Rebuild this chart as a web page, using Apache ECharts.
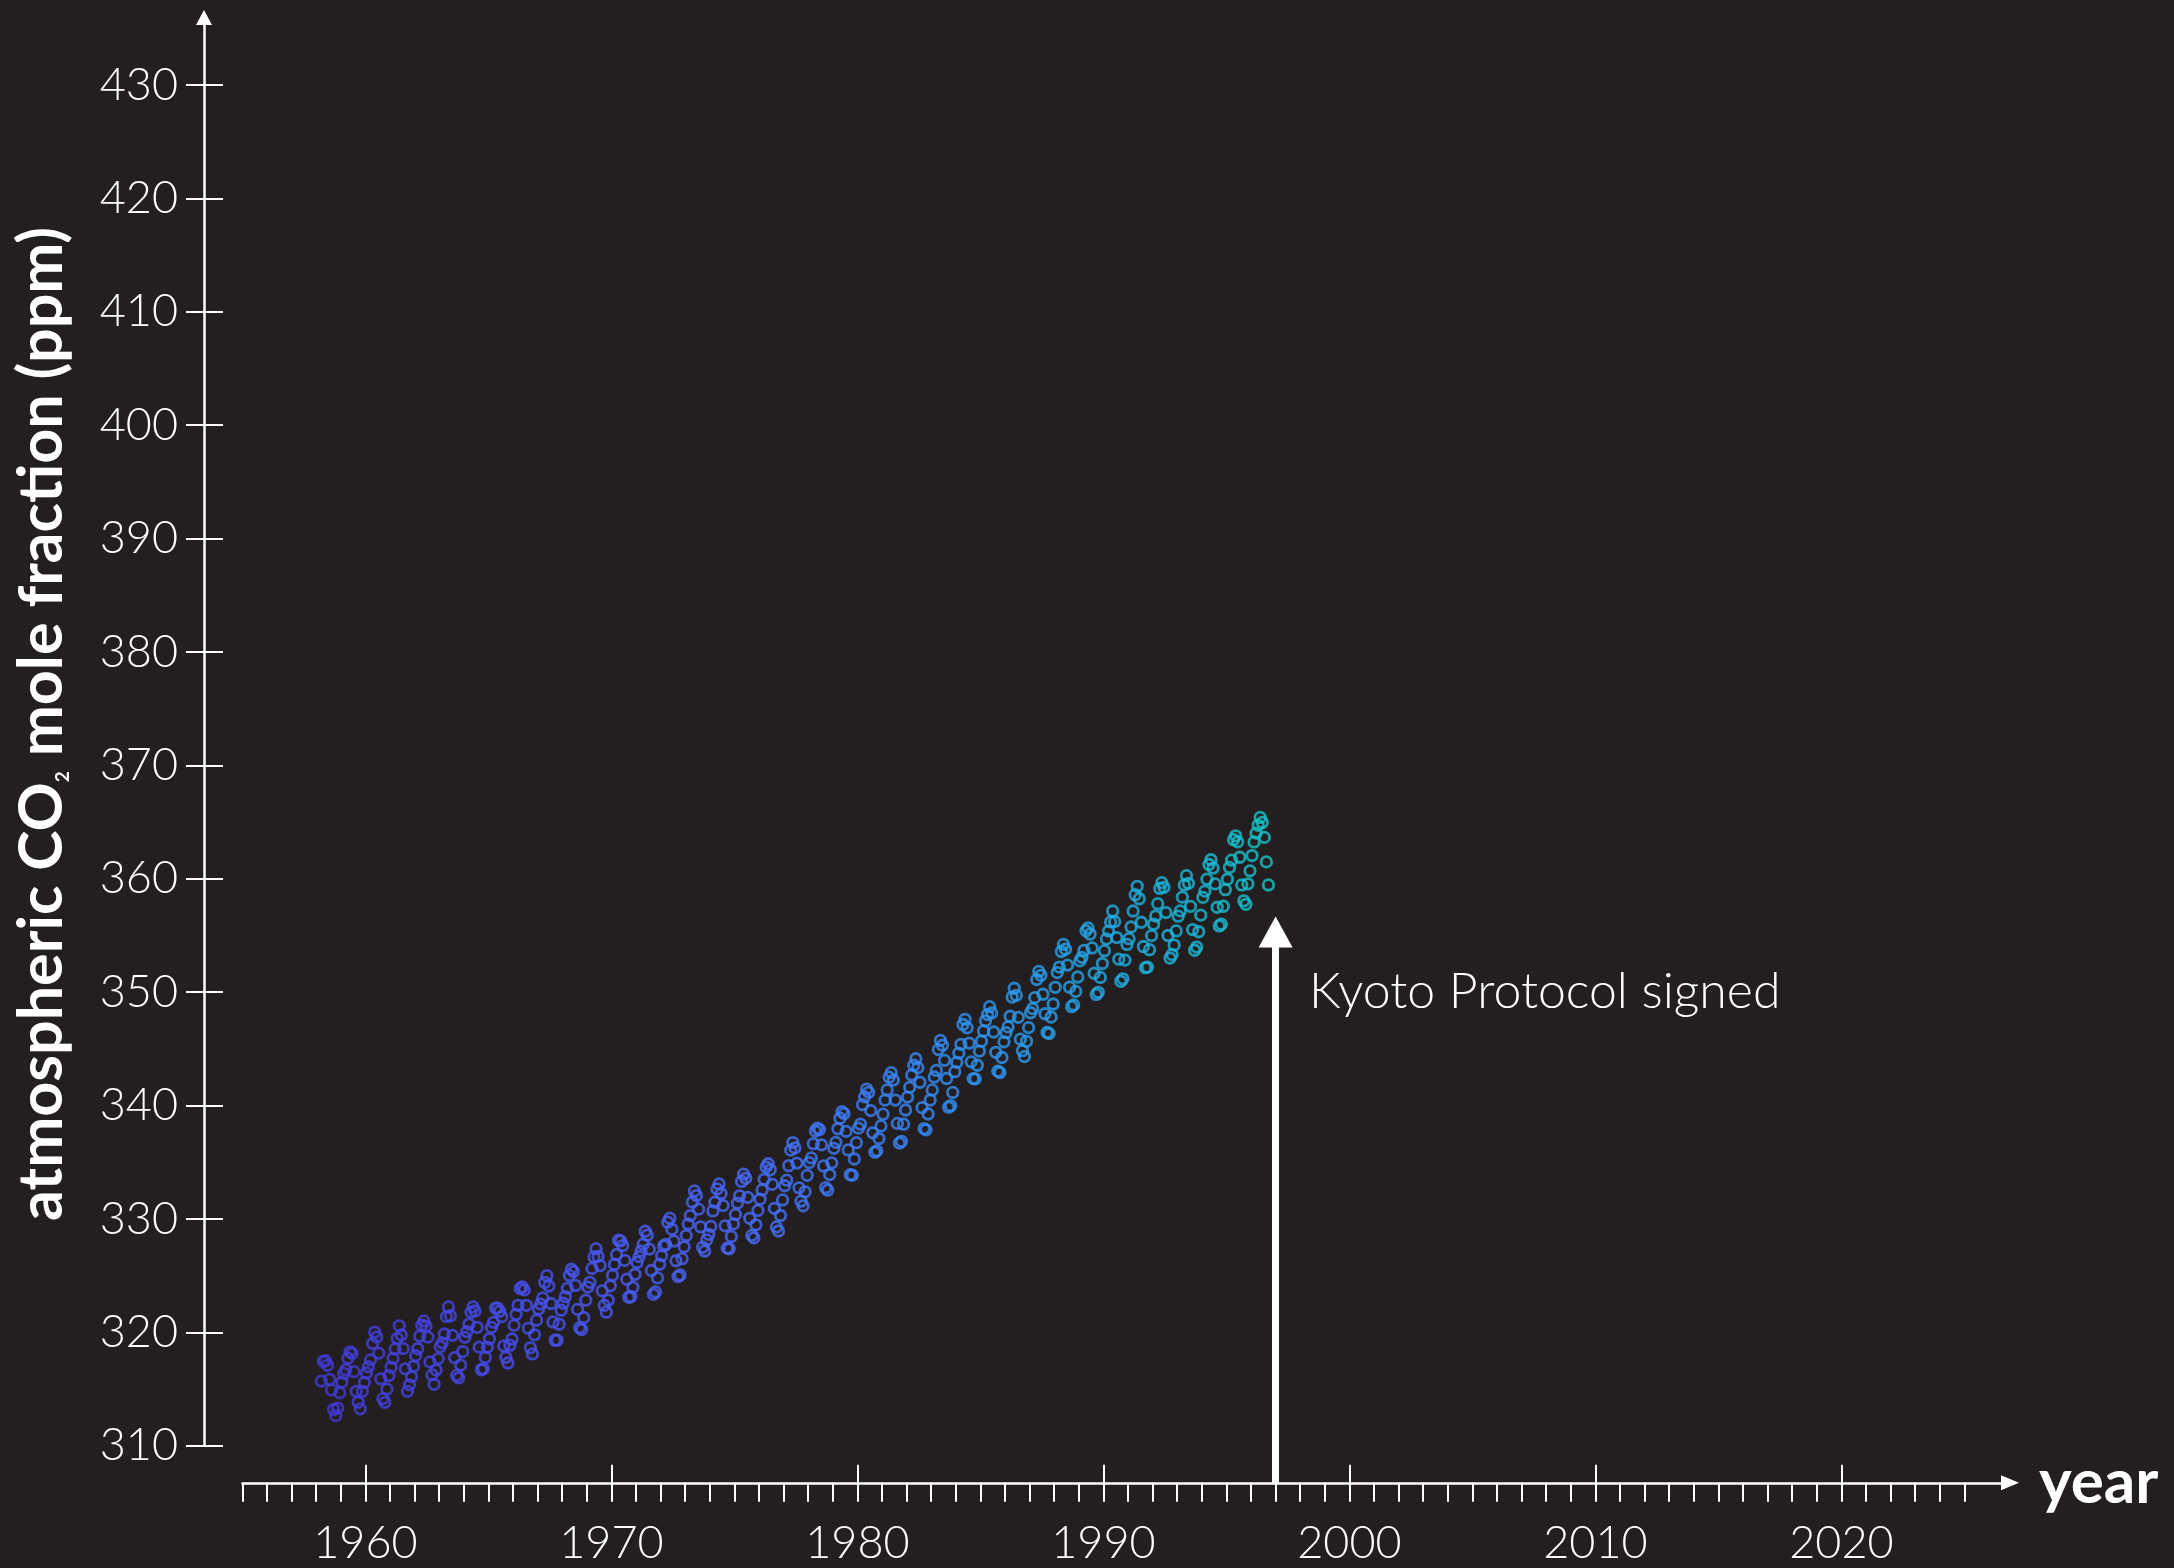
<!DOCTYPE html>
<html>
<head>
<meta charset="utf-8">
<script src="https://cdn.jsdelivr.net/npm/echarts@6/dist/echarts.min.js"></script>
<style>
  html, body { margin: 0; padding: 0; background: #231f20; }
  #chart { width: 2174px; height: 1568px; }
</style>
</head>
<body>
<div id="chart"></div>
<script>
// Mauna Loa monthly mean CO2 (ppm), starting March 1958
const firstYear = 1958;
const firstMonth = 3;

const co2_1958_1959 = [
  315.71, 317.45, 317.50, 317.10, 315.86, 314.93, 313.20, 312.66, 313.33, 314.67,
  315.62, 316.38, 316.71, 317.72, 318.29, 318.15, 316.54, 314.80, 313.84, 313.26, 314.80, 315.58
];
const co2_1960s = [
  316.43, 316.97, 317.58, 319.02, 320.03, 319.59, 318.18, 315.91, 314.16, 313.83, 315.00, 316.19,
  316.93, 317.70, 318.54, 319.48, 320.58, 319.77, 318.57, 316.79, 314.80, 315.38, 316.10, 317.01,
  317.94, 318.56, 319.68, 320.63, 321.01, 320.55, 319.58, 317.40, 316.26, 315.42, 316.69, 317.69,
  318.74, 319.08, 319.86, 321.39, 322.25, 321.47, 319.74, 317.77, 316.21, 315.99, 317.12, 318.31,
  319.57, 320.07, 320.73, 321.77, 322.25, 321.89, 320.44, 318.70, 316.70, 316.79, 317.79, 318.71,
  319.44, 320.44, 320.89, 322.13, 322.16, 321.87, 321.39, 318.81, 317.81, 317.30, 318.87, 319.42,
  320.62, 321.59, 322.39, 323.87, 324.01, 323.75, 322.39, 320.37, 318.64, 318.10, 319.79, 321.08,
  322.07, 322.50, 323.04, 324.42, 325.00, 324.09, 322.55, 320.92, 319.31, 319.31, 320.72, 321.96,
  322.57, 323.15, 323.89, 325.02, 325.57, 325.36, 324.14, 322.03, 320.41, 320.25, 321.31, 322.84,
  324.00, 324.42, 325.64, 326.66, 327.38, 326.70, 325.89, 323.67, 322.38, 321.78, 322.85, 324.11
];
const co2_1970s = [
  325.03, 325.99, 326.87, 328.13, 328.07, 327.66, 326.35, 324.69, 323.10, 323.16, 323.98, 325.13,
  326.17, 326.68, 327.18, 327.78, 328.92, 328.57, 327.34, 325.46, 323.36, 323.57, 324.80, 326.01,
  326.77, 327.63, 327.75, 329.72, 330.07, 329.09, 328.05, 326.32, 324.93, 325.06, 326.50, 327.55,
  328.54, 329.56, 330.30, 331.50, 332.48, 332.07, 330.87, 329.31, 327.51, 327.18, 328.16, 328.64,
  329.35, 330.71, 331.48, 332.65, 333.09, 332.25, 331.18, 329.40, 327.43, 327.37, 328.46, 329.57,
  330.40, 331.40, 332.04, 333.31, 333.96, 333.59, 331.91, 330.06, 328.56, 328.34, 329.49, 330.76,
  331.75, 332.56, 333.50, 334.58, 334.87, 334.34, 333.05, 330.94, 329.30, 328.94, 330.31, 331.68,
  332.93, 333.42, 334.70, 336.07, 336.74, 336.27, 334.93, 332.75, 331.58, 331.16, 332.40, 333.85,
  334.97, 335.39, 336.64, 337.76, 338.01, 337.89, 336.54, 334.68, 332.76, 332.54, 333.92, 334.95,
  336.23, 336.76, 337.96, 338.89, 339.47, 339.29, 337.73, 336.09, 333.91, 333.86, 335.29, 336.73
];
const co2_1980s = [
  338.01, 338.36, 340.08, 340.77, 341.46, 341.17, 339.56, 337.60, 335.88, 336.01, 337.10, 338.21,
  339.24, 340.48, 341.38, 342.51, 342.91, 342.25, 340.49, 338.43, 336.69, 336.85, 338.36, 339.61,
  340.75, 341.61, 342.70, 343.56, 344.13, 343.35, 342.06, 339.82, 337.97, 337.86, 339.26, 340.49,
  341.38, 342.52, 343.10, 344.94, 345.75, 345.32, 343.99, 342.39, 339.86, 339.99, 341.16, 342.99,
  343.82, 344.63, 345.40, 347.15, 347.61, 346.86, 345.51, 343.86, 342.38, 342.36, 343.56, 344.81,
  345.68, 346.58, 347.48, 348.03, 348.72, 348.17, 346.49, 344.70, 343.04, 342.92, 344.24, 345.62,
  346.43, 346.94, 347.88, 349.57, 350.35, 349.72, 347.78, 345.86, 344.84, 344.32, 345.67, 346.88,
  348.19, 348.55, 349.52, 351.12, 351.84, 351.49, 349.82, 348.10, 346.45, 346.36, 347.81, 348.96,
  350.43, 351.73, 352.22, 353.59, 354.22, 353.79, 352.39, 350.44, 348.72, 348.88, 350.07, 351.34,
  352.76, 353.07, 353.68, 355.42, 355.67, 355.13, 353.90, 351.67, 349.80, 349.99, 351.30, 352.53
];
const co2_1990s = [
  353.66, 354.70, 355.39, 356.20, 357.16, 356.22, 354.82, 352.91, 350.96, 351.18, 352.83, 354.21,
  354.72, 355.75, 357.16, 358.60, 359.34, 358.24, 356.17, 354.03, 352.16, 352.21, 353.75, 354.99,
  355.99, 356.72, 357.81, 359.15, 359.66, 359.25, 357.02, 355.00, 353.01, 353.31, 354.16, 355.40,
  356.70, 357.17, 358.38, 359.46, 360.28, 359.60, 357.57, 355.52, 353.70, 353.98, 355.33, 356.80,
  358.36, 358.91, 359.97, 361.26, 361.68, 360.95, 359.55, 357.49, 355.84, 355.99, 357.58, 359.04,
  359.96, 361.00, 361.64, 363.45, 363.79, 363.26, 361.90, 359.46, 358.06, 357.75, 359.56, 360.70,
  362.05, 363.25, 364.03, 364.72, 365.41, 364.97, 363.65, 361.49, 359.46
];

// Axis ranges and the annotation
const yearMin = 1955, yearMax = 2025;
const decadeMin = 1960, decadeMax = 2020;
const ppmMin = 310, ppmMax = 430;
const kyotoYear = 1997;
const kyotoLabel = 'Kyoto Protocol signed';
const kyotoLabelPpm = 350;
const kyotoArrowPpm = 355.3;

// Layout (pixels)
const PX_PER_YEAR = 24.6;
const PX_PER_PPM = 11.34;
const plotLeft = 242.4;
const plotTop = 85;
const plotWidth = (yearMax - yearMin) * PX_PER_YEAR;
const plotHeight = (ppmMax - ppmMin) * PX_PER_PPM;
const plotBottom = plotTop + plotHeight;
const xAxisLineY = 1482.8;
const yAxisLineX = 204;
const xArrowEnd = 2010;
const yArrowEnd = 17.5;

const FONT = 'Lato, "Open Sans", sans-serif';
const WHITE = '#ffffff';

const colorStops = [
  [1958.0, [66, 56, 212]],
  [1966.0, [70, 78, 236]],
  [1975.0, [72, 104, 246]],
  [1982.0, [56, 134, 246]],
  [1988.0, [40, 160, 236]],
  [1993.0, [28, 182, 218]],
  [1996.8, [22, 196, 200]]
];
function colorAt(t) {
  if (t <= colorStops[0][0]) return 'rgb(' + colorStops[0][1].join(',') + ')';
  for (let i = 1; i < colorStops.length; i++) {
    const [t1, c1] = colorStops[i];
    const [t0, c0] = colorStops[i - 1];
    if (t <= t1) {
      const f = (t - t0) / (t1 - t0);
      const c = c0.map((v, k) => Math.round(v + (c1[k] - v) * f));
      return 'rgb(' + c.join(',') + ')';
    }
  }
  return 'rgb(' + colorStops[colorStops.length - 1][1].join(',') + ')';
}

const monthly = [].concat(co2_1958_1959, co2_1960s, co2_1970s, co2_1980s, co2_1990s);
const points = monthly.map((ppm, i) => {
  const m = firstMonth - 1 + i;               // months since Jan of firstYear
  const t = firstYear + (m + 0.5) / 12;       // mid-month decimal year
  return { value: [t, ppm], itemStyle: { borderColor: colorAt(t) } };
});

const decadeLeft = plotLeft + (decadeMin - yearMin) * PX_PER_YEAR;
const floorPpm = ppmMin - (xAxisLineY - plotBottom) / PX_PER_PPM;
const arrowYearMax = yearMin + (xArrowEnd - plotLeft) / PX_PER_YEAR;

const chart = echarts.init(document.getElementById('chart'), null, { renderer: 'canvas' });

const tickStyle = { color: WHITE, width: 2 };
const axisLineStyle = { color: WHITE, width: 2.5 };

chart.setOption({
  backgroundColor: '#231f20',
  animation: false,
  grid: [
    { left: plotLeft, top: plotTop, width: plotWidth, height: plotHeight, outerBoundsMode: 'none' },
    { left: decadeLeft, top: plotTop, width: (decadeMax - decadeMin) * PX_PER_YEAR, height: plotHeight, outerBoundsMode: 'none' },
    { left: yAxisLineX, top: yArrowEnd, width: 10, height: plotBottom - yArrowEnd, outerBoundsMode: 'none' },
    { left: plotLeft, top: plotTop, width: xArrowEnd - plotLeft, height: xAxisLineY - plotTop, outerBoundsMode: 'none' }
  ],
  xAxis: [
    { // yearly ticks
      type: 'value', gridIndex: 0, min: yearMin, max: yearMax, interval: 1,
      position: 'bottom', offset: xAxisLineY - plotBottom,
      axisLine: { show: false },
      axisTick: { show: true, length: 19, lineStyle: tickStyle },
      axisLabel: { show: false },
      splitLine: { show: false }
    },
    { // decade ticks and labels
      type: 'value', gridIndex: 1, min: decadeMin, max: decadeMax, interval: 10,
      position: 'bottom', offset: xAxisLineY - 18 - plotBottom,
      axisLine: { show: false },
      axisTick: { show: true, length: 37, lineStyle: tickStyle },
      axisLabel: {
        show: true, color: WHITE, fontSize: 45, fontFamily: FONT, fontWeight: 300, margin: 56,
        formatter: (v) => String(v)
      },
      splitLine: { show: false }
    },
    { type: 'value', gridIndex: 2, min: 0, max: 1, show: false },
    { // x axis line with arrow
      type: 'value', gridIndex: 3, min: yearMin, max: arrowYearMax,
      position: 'bottom',
      axisLine: { show: true, symbol: ['none', 'triangle'], symbolSize: [15, 18], lineStyle: axisLineStyle },
      axisTick: { show: false },
      axisLabel: { show: false },
      splitLine: { show: false },
      name: 'year', nameLocation: 'end', nameGap: 29,
      nameTextStyle: { color: WHITE, fontSize: 62, fontWeight: 'bold', fontFamily: FONT, verticalAlign: 'middle' }
    }
  ],
  yAxis: [
    {
      type: 'value', gridIndex: 0, min: ppmMin, max: ppmMax, interval: 10,
      position: 'left', offset: plotLeft - (yAxisLineX + 19),
      axisLine: { show: false },
      axisTick: { show: true, length: 37, lineStyle: tickStyle },
      axisLabel: { show: true, color: WHITE, fontSize: 45, fontFamily: FONT, fontWeight: 300, margin: 45 },
      splitLine: { show: false }
    },
    { type: 'value', gridIndex: 1, min: ppmMin, max: ppmMax, show: false },
    { // y axis line with arrow
      type: 'value', gridIndex: 2, min: 0, max: 1, position: 'left',
      axisLine: { show: true, onZero: false, symbol: ['none', 'triangle'], symbolSize: [16, 15], lineStyle: axisLineStyle },
      axisTick: { show: false },
      axisLabel: { show: false },
      splitLine: { show: false }
    },
    { type: 'value', gridIndex: 3, min: floorPpm, max: ppmMax, show: false }
  ],
  series: [
    {
      type: 'scatter',
      xAxisIndex: 0, yAxisIndex: 0,
      symbol: 'circle',
      symbolSize: 10.5,
      itemStyle: { color: 'rgba(0,0,0,0)', borderWidth: 2.8 },
      emphasis: { disabled: true },
      silent: true,
      data: points
    },
    {
      type: 'line',
      xAxisIndex: 3, yAxisIndex: 3,
      data: [],
      silent: true,
      markLine: {
        silent: true,
        symbol: ['none', 'triangle'],
        symbolSize: [34, 31],
        lineStyle: { color: WHITE, width: 7, type: 'solid' },
        label: { show: false },
        emphasis: { disabled: true },
        data: [[{ coord: [kyotoYear, floorPpm] }, { coord: [kyotoYear, kyotoArrowPpm] }]]
      },
      markPoint: {
        silent: true,
        symbol: 'circle',
        symbolSize: 1,
        itemStyle: { color: 'rgba(0,0,0,0)' },
        label: {
          show: true, position: 'right', distance: 33,
          formatter: kyotoLabel,
          color: WHITE, fontSize: 50, fontFamily: FONT, fontWeight: 300
        },
        data: [{ coord: [kyotoYear, kyotoLabelPpm] }]
      }
    }
  ],
  graphic: [
    {
      type: 'text',
      x: 42, y: 724,
      rotation: Math.PI / 2,
      silent: true,
      style: {
        text: '{b|atmospheric CO}{s|2}{b| mole fraction (ppm)}',
        align: 'center',
        verticalAlign: 'middle',
        fill: WHITE,
        rich: {
          b: { fontSize: 61, fontWeight: 'bold', fontFamily: FONT, fill: WHITE, color: WHITE, lineHeight: 61 },
          s: { fontSize: 19, fontWeight: 'bold', fontFamily: FONT, fill: WHITE, color: WHITE, verticalAlign: 'bottom', lineHeight: 19 }
        }
      }
    }
  ]
});
</script>
</body>
</html>
